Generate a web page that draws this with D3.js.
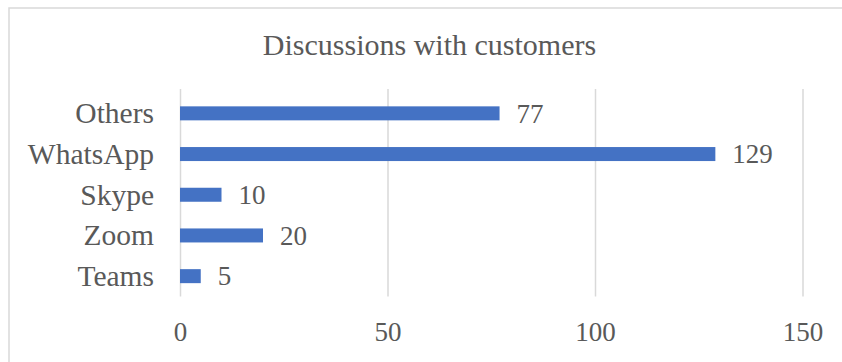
<!DOCTYPE html>
<html>
<head>
<meta charset="utf-8">
<script src="https://cdn.jsdelivr.net/npm/d3@7"></script>
<style>
  html, body { margin: 0; padding: 0; background: #fff; overflow: hidden; }
  svg text { font-family: "Liberation Serif", "Times New Roman", serif; fill: #595959; }
</style>
</head>
<body>
<div id="chart"></div>
<script>
(function () {
  'use strict';
  const categories = ['Teams', 'Zoom', 'Skype', 'WhatsApp', 'Others'];
  const counts = [5, 20, 10, 129, 77];
  const xTicks = [0, 50, 100, 150];
  const title = 'Discussions with customers';

  const width = 842;
  const height = 362;
  const left = 180;
  const right = 802.5;
  const top = 93;
  const bottom = 296.5;

  const svg = d3.select('#chart')
    .append('svg')
    .attr('width', width)
    .attr('height', height);

  // chart frame (right and bottom edges fall outside the picture)
  svg.append('rect')
    .attr('x', 9)
    .attr('y', 8)
    .attr('width', 900)
    .attr('height', 400)
    .attr('fill', '#fff')
    .attr('stroke', '#d9d9d9')
    .attr('stroke-width', 1.5);

  svg.append('text')
    .attr('x', 429.5)
    .attr('y', 55)
    .attr('text-anchor', 'middle')
    .style('font-size', '30px')
    .text(title);

  const xScale = d3.scaleLinear()
    .domain([0, 150])
    .range([left, right]);

  const yScale = d3.scaleBand()
    .domain(categories.slice().reverse())
    .range([top, bottom])
    .paddingInner(0.656)
    .paddingOuter(0.328);

  // gridlines + tick labels
  const xAxis = svg.append('g')
    .attr('transform', 'translate(0,' + bottom + ')')
    .call(d3.axisBottom(xScale)
      .tickValues(xTicks)
      .tickSize(-(bottom - top + 4))
      .tickFormat(d3.format('d')));

  xAxis.select('.domain').remove();
  xAxis.selectAll('.tick line')
    .attr('stroke', '#d9d9d9')
    .attr('stroke-width', 1.5);
  xAxis.selectAll('.tick text')
    .attr('y', 44.5)
    .attr('dy', null)
    .attr('fill', '#595959')
    .style('font-size', '27px')
    .style('font-family', '"Liberation Serif", "Times New Roman", serif');

  const yAxis = svg.append('g')
    .attr('transform', 'translate(' + left + ',0)')
    .call(d3.axisLeft(yScale).tickSize(0).tickPadding(26));

  yAxis.select('.domain').remove();
  yAxis.selectAll('.tick text')
    .attr('dy', '0.34em')
    .attr('fill', '#595959')
    .style('font-size', '29.5px')
    .style('font-family', '"Liberation Serif", "Times New Roman", serif');

  const data = categories.map((c, i) => ({ name: c, value: counts[i] }));

  svg.selectAll('rect.bar')
    .data(data)
    .enter()
    .append('rect')
    .attr('class', 'bar')
    .attr('x', xScale(0))
    .attr('y', d => yScale(d.name))
    .attr('width', d => xScale(d.value) - xScale(0))
    .attr('height', yScale.bandwidth())
    .attr('fill', '#4472c4');

  svg.selectAll('text.value')
    .data(data)
    .enter()
    .append('text')
    .attr('class', 'value')
    .attr('x', d => xScale(d.value) + 17)
    .attr('y', d => yScale(d.name) + yScale.bandwidth() / 2)
    .attr('dy', '0.34em')
    .style('font-size', '27px')
    .text(d => d.value);
}());
</script>
</body>
</html>
